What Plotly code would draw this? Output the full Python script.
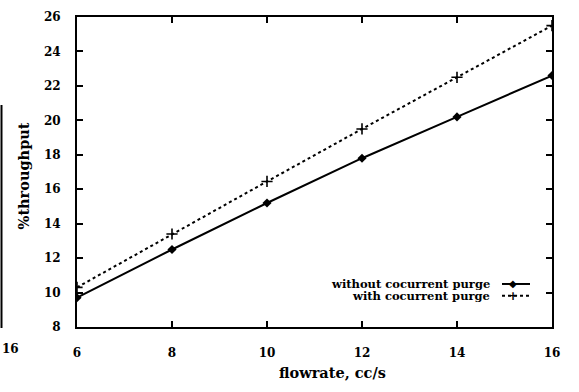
import plotly.graph_objects as go

# flowrate (cc/s) and % throughput for the two purge configurations
flowrate = [6, 8, 10, 12, 14, 16]
without_purge = [9.7, 12.5, 15.2, 17.8, 20.2, 22.6]
with_purge = [10.3, 13.4, 16.45, 19.5, 22.5, 25.5]

series_names = ["without cocurrent purge", "with cocurrent purge"]
x_ticks = [6, 8, 10, 12, 14, 16]
y_ticks = [8, 10, 12, 14, 16, 18, 20, 22, 24, 26]

FONT = "DejaVu Serif"
W, H = 579, 392
L, R, T, B = 77, 27, 10, 65
PW, PH = W - L - R, H - T - B


def px(x):
    """pixel column -> paper x"""
    return (x - L) / PW


def py(y):
    """pixel row -> paper y"""
    return (H - B - y) / PH


fig = go.Figure()

fig.add_trace(go.Scatter(
    x=flowrate, y=without_purge, mode="lines+markers", name=series_names[0],
    line=dict(color="black", width=2),
    marker=dict(symbol="diamond", size=7, color="black"),
    showlegend=False,
))
fig.add_trace(go.Scatter(
    x=flowrate, y=with_purge, mode="lines+markers", name=series_names[1],
    line=dict(color="black", width=2, dash="dot"),
    marker=dict(symbol="cross-thin", size=8, line=dict(color="black", width=1.6)),
    showlegend=False,
))

tick_font = dict(family=FONT, size=12, color="black")
axis_style = dict(
    showline=True, linecolor="black", linewidth=2, mirror="ticks",
    ticks="inside", ticklen=6, tickwidth=1.5, tickcolor="black",
    gridcolor="white", tickfont=tick_font,
)

fig.update_layout(
    width=W, height=H,
    margin=dict(l=L, r=R, t=T, b=B),
    plot_bgcolor="white",
    xaxis=dict(range=[x_ticks[0], x_ticks[-1]], tickvals=x_ticks,
               ticktext=[f"<b>{v}</b>" for v in x_ticks], ticklabelstandoff=14,
               **axis_style),
    yaxis=dict(range=[y_ticks[0], y_ticks[-1]], tickvals=y_ticks,
               ticktext=[f"<b>{v}</b>" for v in y_ticks], ticklabelstandoff=12,
               **axis_style),
)

# key: right-aligned labels with line samples to their right
key_rows = [283, 295]
key_text_right = 492
key_font = dict(family=FONT, size=11.5, color="black")
title_font = dict(family=FONT, size=14.5, color="black")
glyph_font = dict(family="DejaVu Sans", size=10, color="black")

annotations = [
    dict(text=f"<b>{series_names[0]}</b>", x=px(key_text_right), y=py(key_rows[0]),
         xref="paper", yref="paper", xanchor="right", yanchor="middle",
         showarrow=False, font=key_font),
    dict(text=f"<b>{series_names[1]}</b>", x=px(key_text_right), y=py(key_rows[1]),
         xref="paper", yref="paper", xanchor="right", yanchor="middle",
         showarrow=False, font=key_font),
    dict(text="\u25c6", x=px(513), y=py(key_rows[0]), xref="paper", yref="paper",
         xanchor="center", yanchor="middle", showarrow=False, font=glyph_font),
    dict(text="<b>+</b>", x=px(513), y=py(key_rows[1]), xref="paper", yref="paper",
         xanchor="center", yanchor="middle", showarrow=False,
         font=dict(family="DejaVu Sans", size=12, color="black")),
    dict(text="<b>flowrate, cc/s</b>", x=px(332), y=py(374), xref="paper", yref="paper",
         xanchor="center", yanchor="middle", showarrow=False, font=title_font),
    dict(text="<b>%throughput</b>", x=px(23), y=py(173), xref="paper", yref="paper",
         xanchor="center", yanchor="middle", showarrow=False, textangle=-90,
         font=title_font),
    # edge of the neighbouring panel
    dict(text="<b>16</b>", x=px(0), y=py(349), xref="paper", yref="paper",
         xanchor="left", yanchor="middle", showarrow=False, font=tick_font),
]
fig.update_layout(annotations=annotations)

shapes = [
    # key line samples
    dict(type="line", xref="paper", yref="paper", x0=px(502), x1=px(530),
         y0=py(key_rows[0]), y1=py(key_rows[0]), line=dict(color="black", width=2)),
    dict(type="line", xref="paper", yref="paper", x0=px(502), x1=px(530),
         y0=py(key_rows[1]), y1=py(key_rows[1]),
         line=dict(color="black", width=2, dash="dot")),
    # frame edge of the neighbouring panel
    dict(type="line", xref="paper", yref="paper", x0=px(1.5), x1=px(1.5),
         y0=py(328), y1=py(100), line=dict(color="black", width=2)),
]
fig.update_layout(shapes=shapes)

fig.write_html("out.html")
